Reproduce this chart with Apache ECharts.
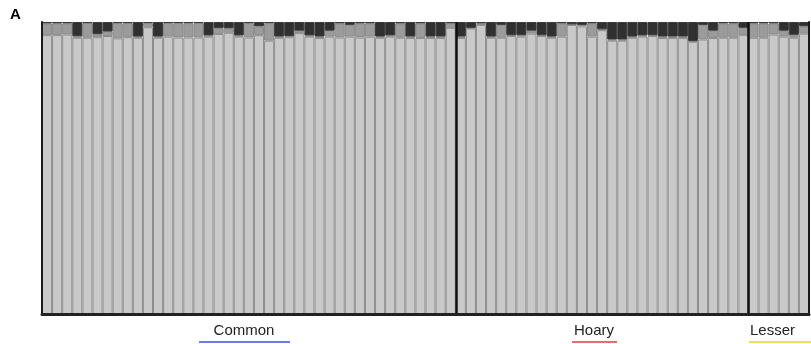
<!DOCTYPE html>
<html>
<head>
<meta charset="utf-8">
<script src="https://cdn.jsdelivr.net/npm/echarts@6/dist/echarts.min.js"></script>
<style>
  html, body { margin: 0; padding: 0; background: #fff; }
  #container { width: 811px; height: 344px; }
</style>
</head>
<body>
<div id="container"></div>
<script>
// membership proportions (%) per individual
const commonLight = [95.5, 95.5, 95.7, 94.6, 94.6, 94.8, 95.2, 94.4, 94.8, 94.6, 98.2, 94.6, 95.0, 94.7, 94.7, 94.7, 95.0, 95.9, 96.3, 95.0, 94.7, 95.5, 93.6, 94.6, 94.8, 96.2, 95.0, 94.5, 95.0, 94.7, 95.0, 94.7, 95.0, 94.6, 95.0, 94.6, 94.5, 94.5, 94.5, 94.5, 98.0]
const commonMid   = [4.0, 4.0, 3.8, 0.5, 5.0, 1.0, 1.5, 5.2, 4.8, 0.4, 1.4, 0.4, 4.6, 4.9, 4.9, 4.9, 0.4, 2.0, 1.5, 0.4, 4.9, 3.0, 6.0, 0.4, 0.4, 0.8, 0.4, 0.5, 2.0, 4.8, 4.0, 4.8, 4.5, 0.4, 0.4, 4.9, 0.5, 5.0, 0.5, 0.5, 1.5]
const commonDark  = [0.5, 0.5, 0.5, 4.9, 0.4, 4.2, 3.3, 0.4, 0.4, 5.0, 0.4, 5.0, 0.4, 0.4, 0.4, 0.4, 4.6, 2.1, 2.2, 4.6, 0.4, 1.5, 0.4, 5.0, 4.8, 3.0, 4.6, 5.0, 3.0, 0.5, 1.0, 0.5, 0.5, 5.0, 4.6, 0.5, 5.0, 0.5, 5.0, 5.0, 0.5]

const hoaryLight = [94.5, 97.8, 99.0, 94.6, 94.6, 95.2, 95.0, 96.0, 95.2, 94.6, 95.0, 99.0, 98.5, 95.0, 97.2, 93.6, 93.6, 94.6, 95.0, 95.2, 94.5, 94.5, 94.5, 93.2, 94.0, 94.5, 94.6, 94.6, 95.6]
const hoaryMid   = [0.5, 0.2, 0.5, 0.4, 4.4, 0.3, 0.5, 1.0, 0.3, 0.4, 4.5, 0.2, 0.5, 4.5, 0.3, 0.4, 0.4, 0.4, 0.4, 0.3, 0.5, 0.5, 0.5, 0.3, 5.0, 2.5, 4.9, 4.9, 2.4]
const hoaryDark  = [5.0, 2.0, 0.5, 5.0, 1.0, 4.5, 4.5, 3.0, 4.5, 5.0, 0.5, 0.8, 1.0, 0.5, 2.5, 6.0, 6.0, 5.0, 4.6, 4.5, 5.0, 5.0, 5.0, 6.5, 1.0, 3.0, 0.5, 0.5, 2.0]

const lesserLight = [94.6, 94.6, 95.7, 95.0, 94.6, 96.0]
const lesserMid   = [4.9, 4.9, 3.8, 2.0, 1.0, 2.5]
const lesserDark  = [0.5, 0.5, 0.5, 3.0, 4.4, 1.5]

const groups = ['Common', 'Hoary', 'Lesser']
const groupColors = ['#3b4fe0', '#e03b3b', '#e8d21c']

const light = [...commonLight, ...hoaryLight, ...lesserLight]
const mid = [...commonMid, ...hoaryMid, ...lesserMid]
const dark = [...commonDark, ...hoaryDark, ...lesserDark]
const samples = light.map((_, i) => 'S' + (i + 1))
const boundaries = [commonLight.length, commonLight.length + hoaryLight.length]

const myChart = echarts.init(document.getElementById('container'))

const barBase = {
  type: 'bar',
  stack: 'q',
  barCategoryGap: '0%',
  silent: true,
}
const frameLine = { show: true, lineStyle: { color: '#1a1a1a', width: 2 } }
const labelFont = '15px "Liberation Sans", Arial'

myChart.setOption({
  animation: false,
  grid: { top: 22, left: 42, right: 2, bottom: 30 },
  xAxis: [
    {
      type: 'category',
      data: samples,
      z: 10,
      axisLine: frameLine,
      axisTick: { show: false },
      axisLabel: { show: false },
    },
    {
      type: 'value',
      position: 'top',
      min: 0,
      max: samples.length,
      z: 10,
      axisLine: { show: true, lineStyle: { color: '#222', width: 3 } },
      axisTick: { show: false },
      axisLabel: { show: false },
      splitLine: { show: false },
    }
  ],
  yAxis: [
    {
      type: 'value', min: 0, max: 100, z: 10,
      axisLine: frameLine,
      axisTick: { show: false }, axisLabel: { show: false }, splitLine: { show: false },
    },
    {
      type: 'value', min: 0, max: 100, position: 'right', z: 10,
      axisLine: frameLine,
      axisTick: { show: false }, axisLabel: { show: false }, splitLine: { show: false },
    }
  ],
  series: [
    { ...barBase, data: light, itemStyle: { color: '#c9c9c9', borderColor: '#8e8e8e', borderWidth: 1 } },
    { ...barBase, data: mid, itemStyle: { color: '#9b9b9b', borderColor: '#8a8a8a', borderWidth: 1 } },
    { ...barBase, data: dark, itemStyle: { color: '#303030', borderColor: '#3a3a3a', borderWidth: 1 } },
    {
      type: 'line',
      xAxisIndex: 1,
      data: [],
      z: 12,
      markLine: {
        silent: true,
        symbol: 'none',
        label: { show: false },
        lineStyle: { color: '#111', width: 2.5, type: 'solid' },
        data: boundaries.map(b => ({ xAxis: b }))
      }
    }
  ],
  graphic: [
    { type: 'text', left: 10, top: 7, style: { text: 'A', font: 'bold 15px "Liberation Sans", Arial', fill: '#000' } },
    { type: 'text', x: 244, y: 331, style: { text: groups[0], font: labelFont, fill: '#222', align: 'center', verticalAlign: 'middle' } },
    { type: 'line', shape: { x1: 199, y1: 342, x2: 290, y2: 342 }, style: { stroke: groupColors[0], lineWidth: 1.5 } },
    { type: 'text', x: 594, y: 331, style: { text: groups[1], font: labelFont, fill: '#222', align: 'center', verticalAlign: 'middle' } },
    { type: 'line', shape: { x1: 572, y1: 342, x2: 617, y2: 342 }, style: { stroke: groupColors[1], lineWidth: 1.5 } },
    { type: 'text', x: 750, y: 331, style: { text: groups[2], font: labelFont, fill: '#222', align: 'left', verticalAlign: 'middle' } },
    { type: 'line', shape: { x1: 749, y1: 342, x2: 811, y2: 342 }, style: { stroke: groupColors[2], lineWidth: 1.5 } },
  ]
})
</script>
</body>
</html>
